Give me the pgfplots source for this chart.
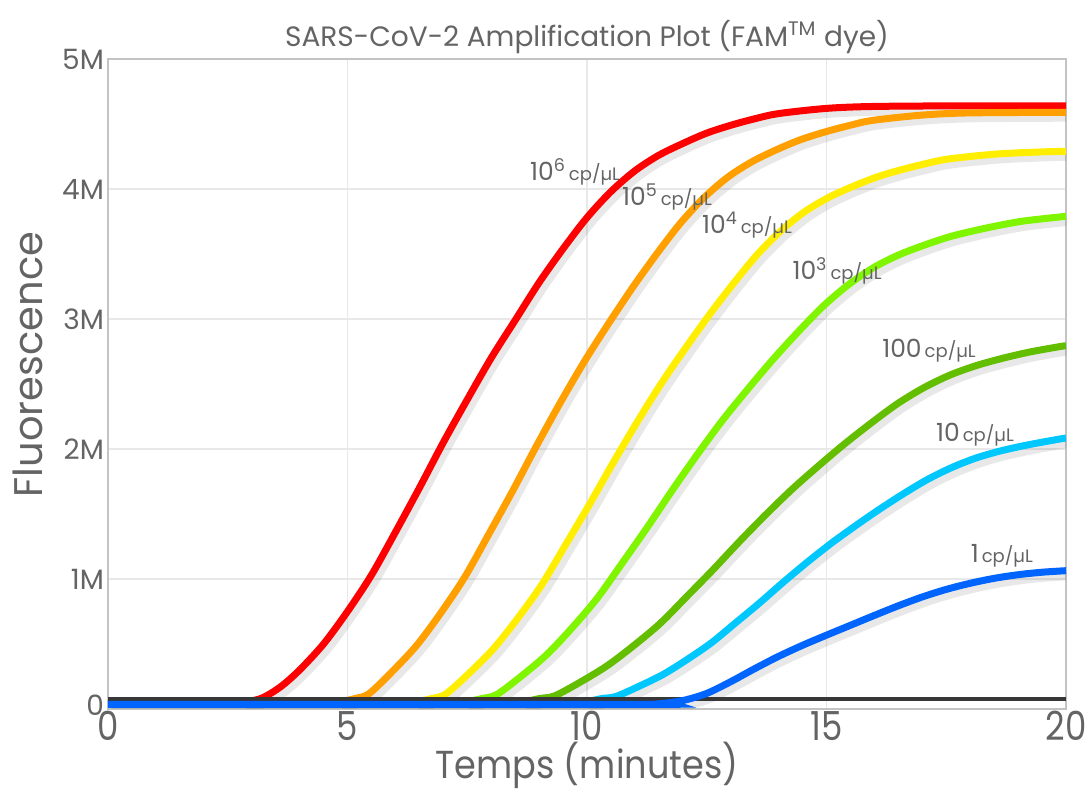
\documentclass[border=0pt]{standalone}
\usepackage{fontspec}
\setmainfont{Poppins}
\usepackage{graphicx}
\usepackage{pgfplots}
\usepackage{pgfplotstable}
\pgfplotsset{compat=1.18}
\definecolor{txt}{RGB}{100,100,100}
\definecolor{cRed}{RGB}{255,0,0}
\definecolor{cOrange}{RGB}{255,160,0}
\definecolor{cYellow}{RGB}{255,238,0}
\definecolor{cLime}{RGB}{128,245,0}
\definecolor{cGreen}{RGB}{100,190,0}
\definecolor{cCyan}{RGB}{0,200,255}
\definecolor{cBlue}{RGB}{0,100,255}
\definecolor{cBase}{RGB}{55,55,55}
\definecolor{gridc}{RGB}{232,232,232}
\definecolor{framec}{RGB}{195,195,195}

\pgfplotstableread{
t v
2.8 0.05
3.2 0.082
3.6 0.17
4.0 0.3
4.5 0.5
5.0 0.75
5.5 1.03
6.0 1.36
6.5 1.70
7.0 2.05
7.5 2.38
8.0 2.70
8.5 2.99
9.0 3.28
9.5 3.54
10.0 3.78
10.5 3.98
11.0 4.14
11.5 4.26
12.0 4.35
12.5 4.43
13.0 4.49
13.5 4.54
14.0 4.58
15.0 4.62
16.0 4.635
18.0 4.64
20.0 4.64
}\tRed

\pgfplotstableread{
t v
4.8 0.05
5.15 0.08
5.45 0.118
5.95 0.294
6.45 0.492
6.95 0.740
7.45 1.016
7.95 1.345
8.45 1.679
8.95 2.027
9.45 2.361
9.95 2.676
10.45 2.965
10.95 3.241
11.45 3.498
11.95 3.737
12.45 3.936
12.95 4.094
13.45 4.211
13.95 4.301
14.45 4.378
14.95 4.437
15.45 4.486
15.95 4.527
16.95 4.567
17.95 4.585
20.0 4.59
}\tOrange

\pgfplotstableread{
t v
6.4 0.05
6.75 0.08
7.05 0.115
7.55 0.279
8.05 0.465
8.55 0.696
9.05 0.953
9.55 1.261
10.05 1.573
10.55 1.897
11.05 2.209
11.55 2.504
12.05 2.773
12.55 3.030
13.05 3.270
13.55 3.494
14.05 3.679
14.55 3.827
15.05 3.936
15.55 4.020
16.05 4.092
16.55 4.147
17.05 4.193
17.55 4.231
18.55 4.269
19.55 4.286
20.0 4.29
}\tYellow

\pgfplotstableread{
t v
7.45 0.05
7.8 0.08
8.115 0.111
8.64 0.256
9.165 0.420
9.69 0.625
10.215 0.853
10.74 1.125
11.265 1.401
11.79 1.688
12.315 1.964
12.84 2.226
13.365 2.464
13.89 2.692
14.415 2.904
14.94 3.102
15.465 3.266
15.99 3.397
16.515 3.494
17.04 3.568
17.565 3.632
18.09 3.680
18.615 3.721
19.14 3.755
20.0 3.79
}\tLime

\pgfplotstableread{
t v
8.65 0.05
9.0 0.08
9.33 0.102
9.88 0.211
10.43 0.335
10.98 0.489
11.53 0.659
12.08 0.864
12.63 1.071
13.18 1.287
13.73 1.494
14.28 1.690
14.83 1.869
15.38 2.040
15.93 2.199
16.48 2.348
17.03 2.471
17.58 2.569
18.13 2.642
18.68 2.698
19.23 2.745
19.78 2.782
20.0 2.795
}\tGreen

\pgfplotstableread{
t v
9.95 0.05
10.3 0.08
10.6 0.096
11.1 0.177
11.6 0.268
12.1 0.383
12.6 0.510
13.1 0.662
13.6 0.815
14.1 0.976
14.6 1.130
15.1 1.275
15.6 1.408
16.1 1.535
16.6 1.654
17.1 1.764
17.6 1.855
18.1 1.928
18.6 1.982
19.1 2.024
19.6 2.059
20.0 2.085
}\tCyan

\pgfplotstableread{
t v
0 0.035
11.0 0.035
11.5 0.040
12.0 0.065
12.5 0.120
13.0 0.210
13.5 0.310
14.0 0.405
14.5 0.490
15.0 0.568
15.5 0.644
16.0 0.720
16.5 0.794
17.0 0.862
17.5 0.920
18.0 0.967
18.5 1.005
19.0 1.033
19.5 1.052
20.0 1.064
}\tBlue

\pgfplotstableread{
t v
0 0.077
20 0.077
}\tBase

\newcommand{\lab}[1]{{\fontsize{12.5}{12.5}\selectfont #1}{\fontsize{9}{9}\selectfont\,cp/µL}}
\newcommand{\sx}[1]{\scalebox{0.85}[1]{#1}}

\begin{document}
\begin{tikzpicture}
\path[use as bounding box] (-54pt,-41pt) rectangle (489.5pt,354.5pt);
\begin{axis}[
  at={(0,0)}, anchor=south west,
  scale only axis, width=479pt, height=325pt,
  xmin=0, xmax=20, ymin=0, ymax=5,
  xtick={0,5,10,15,20}, xticklabels={\sx{0},\sx{5},\sx{10},\sx{15},\sx{20}},
  ytick={0,1,2,3,4,5}, yticklabels={\raisebox{4pt}{0}\hspace{6pt},1M,2M,3M,4M,5M},
  major tick length=0pt,
  grid=major, grid style={gridc, line width=0.6pt},
  axis line style={framec, line width=0.7pt},
  tick label style={text=txt},
  yticklabel style={font=\fontsize{14}{14}\selectfont, xshift=1.5pt},
  xticklabel style={font=\fontsize{20}{20}\selectfont, yshift=2.5pt},
  xlabel={\scalebox{0.9}[1]{Temps (minutes)}}, ylabel={Fluorescence},
  xlabel style={font=\fontsize{19.5}{20}\selectfont, text=txt, at={(0.5,0)}, anchor=center, yshift=-28pt},
  ylabel style={font=\fontsize{20}{20}\selectfont, text=txt, at={(0,0.53)}, anchor=center, yshift=40pt},
  title={SARS-CoV-2 Amplification Plot (FAM\textsuperscript{TM} dye)},
  title style={font=\fontsize{14}{15}\selectfont, text=txt, at={(0.5,1)}, anchor=center, yshift=5pt},
  clip=true,
  shadow/.style={draw=black, opacity=0.09, line width=5pt, xshift=1.8pt, yshift=-2.2pt, smooth, no marks},
  curve/.style={line width=3.5pt, smooth, no marks},
]
\addplot[shadow] table {\tRed};
\addplot[shadow] table {\tOrange};
\addplot[shadow] table {\tYellow};
\addplot[shadow] table {\tLime};
\addplot[shadow] table {\tGreen};
\addplot[shadow] table {\tCyan};
\addplot[curve, cRed] table {\tRed};
\addplot[curve, cOrange] table {\tOrange};
\addplot[curve, cYellow] table {\tYellow};
\addplot[curve, cLime] table {\tLime};
\addplot[curve, cGreen] table {\tGreen};
\addplot[curve, cCyan] table {\tCyan};
\addplot[shadow] table {\tBlue};
\addplot[cBase, line width=2.2pt, no marks] table {\tBase};
\addplot[curve, cBlue] table {\tBlue};

\node[text=txt] at (axis cs:9.75,4.13) {\lab{10\textsuperscript{6}}};
\node[text=txt] at (axis cs:11.67,3.94) {\lab{10\textsuperscript{5}}};
\node[text=txt] at (axis cs:13.34,3.72) {\lab{10\textsuperscript{4}}};
\node[text=txt] at (axis cs:15.22,3.37) {\lab{10\textsuperscript{3}}};
\node[text=txt] at (axis cs:17.14,2.76) {\lab{100}};
\node[text=txt] at (axis cs:18.1,2.11) {\lab{10}};
\node[text=txt] at (axis cs:18.66,1.18) {\lab{1}};
\end{axis}
\end{tikzpicture}
\end{document}
